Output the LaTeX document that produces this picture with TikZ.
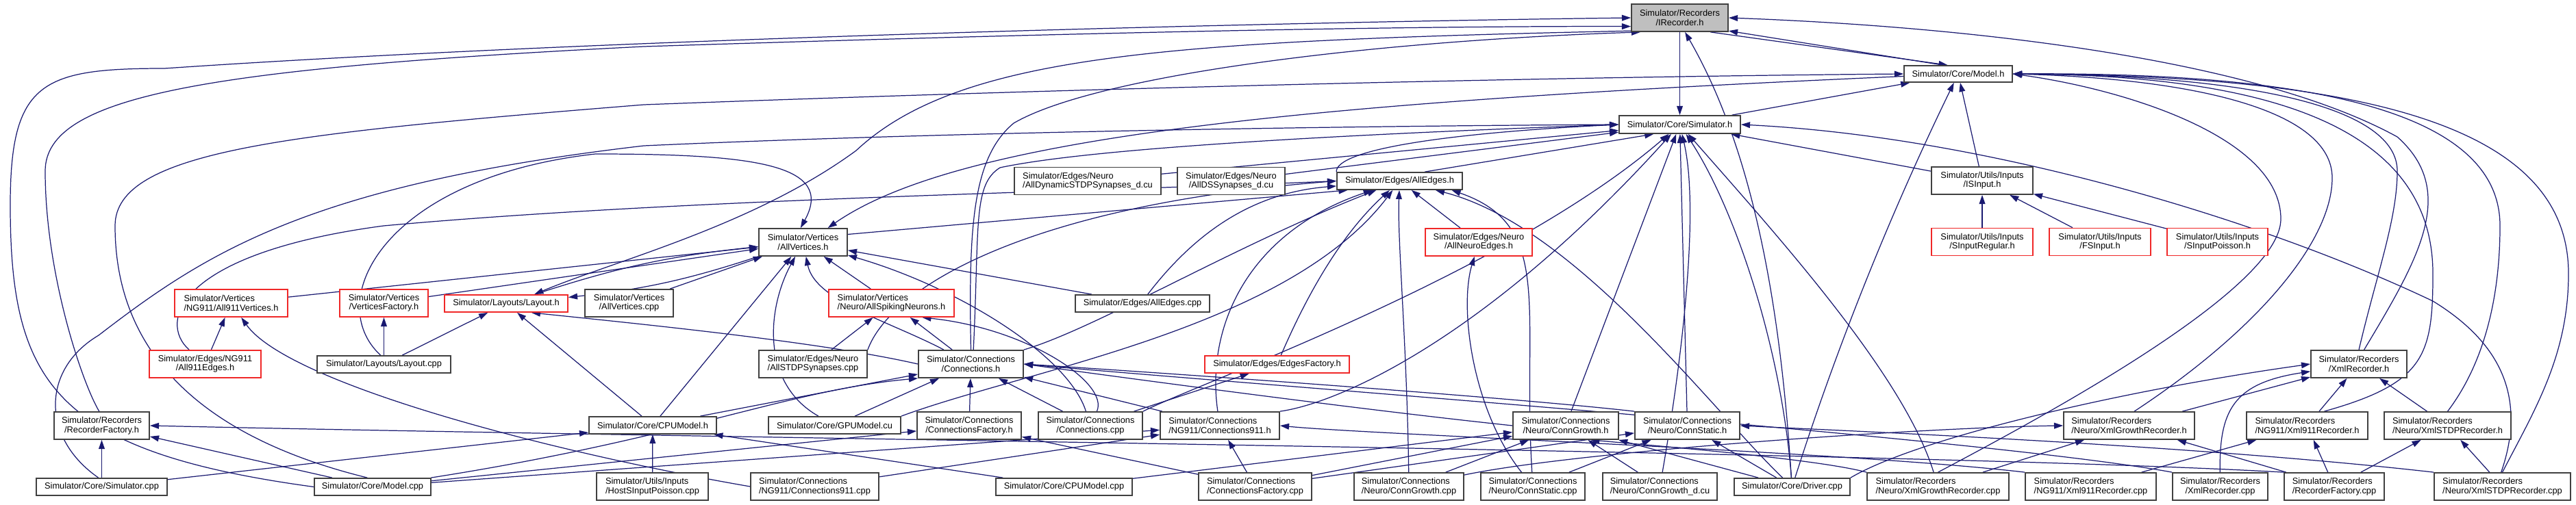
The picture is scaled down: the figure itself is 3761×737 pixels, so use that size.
\documentclass[tikz,border=0pt]{standalone}
\usepackage{fontspec}
\setmainfont{Liberation Sans}
\usetikzlibrary{arrows.meta,backgrounds}

\definecolor{edgeblue}{RGB}{25,25,112}
\definecolor{rootgray}{RGB}{191,191,191}
\definecolor{truncred}{RGB}{240,40,40}

\begin{document}
\begin{tikzpicture}[x=0.02cm, y=-0.02cm, font=\fontsize{7.3}{7.6}\selectfont,
  box/.style={draw=black!75, line width=1pt, fill=white, inner sep=0pt, align=center},
  rootbox/.style={box, fill=rootgray},
  redbox/.style={box, draw=truncred},
  wh/.style 2 args={minimum width=#1*0.02cm, minimum height=#2*0.02cm},
  edge/.style={draw=edgeblue, line width=0.7pt, -{Triangle[length=7.5pt,width=5pt]}}]
  \useasboundingbox (0,0) rectangle (3761,737);

  \node[rootbox, wh={141}{40}] (ir) at (2452.5,26) {Simulator/Recorders\\/IRecorder.h};
  \node[box, wh={158}{24}] (mh) at (2859,108) {Simulator/Core/Model.h};
  \node[box, wh={177}{26}] (sh) at (2452.5,182) {Simulator/Core/Simulator.h};

  \node[box, wh={214}{40}, align=left] (ads) at (1588,264.5) {Simulator/Edges/Neuro\\/AllDynamicSTDPSynapses\_d.cu};
  \node[box, wh={157}{40}] (adss) at (1797.5,264.5) {Simulator/Edges/Neuro\\/AllDSSynapses\_d.cu};
  \node[box, wh={183}{25}] (aeh) at (2043.5,264.5) {Simulator/Edges/AllEdges.h};
  \node[box, wh={148}{40}] (isi) at (2894,264) {Simulator/Utils/Inputs\\/ISInput.h};

  \node[box, wh={129}{40}] (avh) at (1172.5,354) {Simulator/Vertices\\/AllVertices.h};
  \node[redbox, wh={156}{40}] (ane) at (2159,354) {Simulator/Edges/Neuro\\/AllNeuroEdges.h};
  \node[redbox, wh={148}{40}] (sir) at (2894,353.5) {Simulator/Utils/Inputs\\/SInputRegular.h};
  \node[redbox, wh={148}{40}] (fsi) at (3066,353.5) {Simulator/Utils/Inputs\\/FSInput.h};
  \node[redbox, wh={147}{40}] (sip) at (3237.5,353.5) {Simulator/Utils/Inputs\\/SInputPoisson.h};

  \node[redbox, wh={165}{40}, align=left] (a9v) at (337.5,443) {Simulator/Vertices\\/NG911/All911Vertices.h};
  \node[redbox, wh={129}{40}] (vf) at (560.5,443) {Simulator/Vertices\\/VerticesFactory.h};
  \node[redbox, wh={180}{25}] (lh) at (739,443.5) {Simulator/Layouts/Layout.h};
  \node[box, wh={129}{40}] (avc) at (918.5,443) {Simulator/Vertices\\/AllVertices.cpp};
  \node[redbox, wh={183}{40}, align=left] (asn) at (1301.5,443) {Simulator/Vertices\\/Neuro/AllSpikingNeurons.h};
  \node[box, wh={196}{25}] (aec) at (1668,443.5) {Simulator/Edges/AllEdges.cpp};

  \node[redbox, wh={163}{40}] (a9e) at (299.5,532) {Simulator/Edges/NG911\\/All911Edges.h};
  \node[box, wh={195}{25}] (lc) at (560.5,532.5) {Simulator/Layouts/Layout.cpp};
  \node[box, wh={158}{40}, align=left] (asc) at (1187,532) {Simulator/Edges/Neuro\\/AllSTDPSynapses.cpp};
  \node[box, wh={153}{40}] (ch) at (1417.5,532) {Simulator/Connections\\/Connections.h};
  \node[redbox, wh={211}{25}] (ef) at (1864.5,532.5) {Simulator/Edges/EdgesFactory.h};
  \node[box, wh={140}{40}] (xrh) at (3444,532) {Simulator/Recorders\\/XmlRecorder.h};

  \node[box, wh={139}{40}] (rfh) at (148.5,622) {Simulator/Recorders\\/RecorderFactory.h};
  \node[box, wh={186}{25}] (cpuh) at (953,621.5) {Simulator/Core/CPUModel.h};
  \node[box, wh={193}{25}] (gpu) at (1218.5,621.5) {Simulator/Core/GPUModel.cu};
  \node[box, wh={152}{40}] (cfh) at (1415,622) {Simulator/Connections\\/ConnectionsFactory.h};
  \node[box, wh={152}{40}] (cc) at (1592,622) {Simulator/Connections\\/Connections.cpp};
  \node[box, wh={174}{40}, align=left] (c9h) at (1781,622) {Simulator/Connections\\/NG911/Connections911.h};
  \node[box, wh={154}{40}] (cgh) at (2286,622) {Simulator/Connections\\/Neuro/ConnGrowth.h};
  \node[box, wh={153}{40}] (csh) at (2463.5,622) {Simulator/Connections\\/Neuro/ConnStatic.h};
  \node[box, wh={191}{40}, align=left] (xgh) at (3108.5,622) {Simulator/Recorders\\/Neuro/XmlGrowthRecorder.h};
  \node[box, wh={177}{40}, align=left] (x9h) at (3368.5,622) {Simulator/Recorders\\/NG911/Xml911Recorder.h};
  \node[box, wh={185}{40}, align=left] (xsh) at (3573.5,622) {Simulator/Recorders\\/Neuro/XmlSTDPRecorder.h};

  \node[box, wh={191}{25}] (sc) at (148.5,711.5) {Simulator/Core/Simulator.cpp};
  \node[box, wh={170}{25}] (mc) at (544,711.5) {Simulator/Core/Model.cpp};
  \node[box, wh={163}{40}, align=left] (hsp) at (952.5,711) {Simulator/Utils/Inputs\\/HostSInputPoisson.cpp};
  \node[box, wh={187}{40}, align=left] (c9c) at (1189.5,711) {Simulator/Connections\\/NG911/Connections911.cpp};
  \node[box, wh={199}{25}] (cpuc) at (1553.5,711.5) {Simulator/Core/CPUModel.cpp};
  \node[box, wh={165}{40}, align=left] (cfc) at (1832.5,711) {Simulator/Connections\\/ConnectionsFactory.cpp};
  \node[box, wh={160}{40}, align=left] (cgc) at (2057,711) {Simulator/Connections\\/Neuro/ConnGrowth.cpp};
  \node[box, wh={152}{40}, align=left] (csc) at (2238,711) {Simulator/Connections\\/Neuro/ConnStatic.cpp};
  \node[box, wh={167}{40}, align=left] (cgd) at (2423.5,711) {Simulator/Connections\\/Neuro/ConnGrowth\_d.cu};
  \node[box, wh={169}{25}] (dc) at (2616.5,711.5) {Simulator/Core/Driver.cpp};
  \node[box, wh={207}{40}, align=left] (xgc) at (2829.5,711) {Simulator/Recorders\\/Neuro/XmlGrowthRecorder.cpp};
  \node[box, wh={191}{40}, align=left] (x9c) at (3052.5,711) {Simulator/Recorders\\/NG911/Xml911Recorder.cpp};
  \node[box, wh={139}{40}] (xrc) at (3241.5,711) {Simulator/Recorders\\/XmlRecorder.cpp};
  \node[box, wh={146}{40}, align=left] (rfc) at (3408,711) {Simulator/Recorders\\/RecorderFactory.cpp};
  \node[box, wh={199}{40}, align=left] (xsc) at (3653.5,711) {Simulator/Recorders\\/Neuro/XmlSTDPRecorder.cpp};

  \begin{pgfonlayer}{background}
  \draw[edge] (mh.150) -- (ir.-15);
  \draw[edge] (ir.-25) -- (mh.140);
  \draw[edge] (ir) -- (sh);
  \draw[edge] (mc.west) .. controls (80,660) and (15,560) .. (15,300) .. controls (15,120) and (60,100) .. (240,100) .. controls (900,55) and (1900,32) .. (ir.west);
  \draw[edge] (rfh.100) .. controls (120,560) and (66,400) .. (66,250) .. controls (66,140) and (300,100) .. (940,68) .. controls (1500,50) and (2000,38) .. (ir.190);
  \draw[edge] (mc.120) .. controls (300,640) and (168,520) .. (168,330) .. controls (168,220) and (420,195) .. (940,153) .. controls (1600,128) and (2300,112) .. (mh.west);
  \draw[edge] (sc.110) .. controls (60,640) and (60,540) .. (144,490) .. controls (300,370) and (450,270) .. (940,213) .. controls (1400,192) and (2000,184) .. (sh.west);
  \draw[edge] (lc.110) .. controls (470,440) and (560,260) .. (869,225) .. controls (1100,225) and (1220,240) .. (avh.100);
  \draw[edge] (ir.195) .. controls (1700,60) and (1400,80) .. (1250,220) .. controls (1100,330) and (900,380) .. (lh.18);
  \draw[edge] (mh) .. controls (1900,150) and (1400,200) .. (avh.30);
  \draw[edge] (ch.north) .. controls (1414,330) and (1420,230) .. (1480,180) .. controls (1600,110) and (2000,60) .. (ir.200);
  \draw[edge] (ch.80) .. controls (1430,330) and (1420,270) .. (1460,245) .. controls (1600,215) and (2000,195) .. (sh.west);
  \draw[edge] (dc.95) .. controls (2600,450) and (2560,220) .. (ir.-70);
  \draw[edge] (xrh.70) .. controls (3530,380) and (3590,280) .. (3500,200) .. controls (3300,90) and (2900,40) .. (ir.east);
  \draw[edge] (sh) -- (mh);
  \draw[edge] (isi) -- (mh);
  \draw[edge] (isi) -- (sh);
  \draw[edge] (dc) .. controls (2700,450) and (2790,250) .. (mh);
  \draw[edge] (xgc.north) .. controls (3000,600) and (3330,420) .. (3330,320) .. controls (3330,200) and (3100,130) .. (mh.east);
  \draw[edge] (xgh.70) .. controls (3300,480) and (3405,350) .. (3405,260) .. controls (3405,160) and (3200,115) .. (mh.east);
  \draw[edge] (xrh.north) .. controls (3470,400) and (3500,320) .. (3500,250) .. controls (3500,160) and (3300,110) .. (mh.east);
  \draw[edge] (x9h.40) .. controls (3540,560) and (3552,520) .. (3552,400) .. controls (3552,180) and (3300,110) .. (mh.east);
  \draw[edge] (xsh.north) .. controls (3620,540) and (3650,450) .. (3650,330) .. controls (3650,170) and (3400,105) .. (mh.east);
  \draw[edge] (xsc.north) .. controls (3700,600) and (3750,520) .. (3750,400) .. controls (3750,200) and (3500,110) .. (mh.east);
  \draw[edge] (xsc.95) .. controls (3690,580) and (3650,500) .. (3552,440) .. controls (3300,320) and (2900,200) .. (sh.east);

  \draw[edge] (ads) -- (sh);
  \draw[edge] (adss) -- (sh);
  \draw[edge] (aeh.north west) .. controls (1950,220) and (2100,195) .. (sh.west);
  \draw[edge] (aeh.20) -- (sh.200);
  \draw[edge] (cgh) -- (sh);
  \draw[edge] (csh) -- (sh);
  \draw[edge] (cc.north east) .. controls (1750,560) and (2200,400) .. (sh);
  \draw[edge] (c9h.north east) .. controls (1950,590) and (2165,500) .. (sh);
  \draw[edge] (dc) .. controls (2600,500) and (2530,300) .. (sh);
  \draw[edge] (cgd) .. controls (2460,500) and (2480,300) .. (sh);
  \draw[edge] (xgc) .. controls (2780,550) and (2600,350) .. (sh);

  \draw[edge] (a9v) -- (avh);
  \draw[edge] (vf) -- (avh);
  \draw[edge] (lh) to[bend left=6] (avh);
  \draw[edge] (avh) to[bend left=6] (lh);
  \draw[edge] (avc) -- (avh);
  \draw[edge] (asn) -- (avh);
  \draw[edge] (aec) -- (avh);
  \draw[edge] (cpuh) -- (avh);
  \draw[edge] (gpu) .. controls (1110,560) and (1120,450) .. (avh);
  \draw[edge] (ch) .. controls (1300,470) and (1190,440) .. (avh);
  \draw[edge] (cc) .. controls (1560,520) and (1400,420) .. (avh);
  \draw[edge] (avh.10) -- (aeh.190);
  \draw[edge] (asc.north east) .. controls (1300,420) and (1500,300) .. (aeh.west);

  \draw[edge] (a9e) -- (a9v);
  \draw[edge] (a9e) .. controls (230,470) and (260,370) .. (560,330) .. controls (1000,290) and (1600,280) .. (aeh.west);
  \draw[edge] (c9c.west) .. controls (800,660) and (420,560) .. (a9v);
  \draw[edge] (lc) -- (vf);
  \draw[edge] (lc) -- (lh);
  \draw[edge] (cpuh) -- (lh);
  \draw[edge] (ch.west) .. controls (1200,500) and (950,475) .. (lh.-20);
  \draw[edge] (asc) -- (asn);
  \draw[edge] (ch) -- (asn);
  \draw[edge] (cc) .. controls (1620,560) and (1500,480) .. (asn.-25);
  \draw[edge] (aec.60) .. controls (1760,320) and (1850,280) .. (aeh);

  \draw[edge] (ef) .. controls (1900,450) and (1950,350) .. (aeh);
  \draw[edge] (gpu.north east) .. controls (1500,540) and (1880,480) .. (aeh);
  \draw[edge] (cgc) .. controls (2054,500) and (2040,350) .. (aeh);
  \draw[edge] (ane) -- (aeh);
  \draw[edge] (csc) .. controls (2222,450) and (2270,330) .. (aeh.-10);
  \draw[edge] (csc) .. controls (2150,600) and (2130,450) .. (ane);
  \draw[edge] (dc) .. controls (2500,600) and (2300,330) .. (aeh);
  \draw[edge] (c9h) .. controls (1760,480) and (1820,340) .. (aeh);
  \draw[edge] (ch.north east) .. controls (1600,480) and (1800,360) .. (aeh);

  \draw[edge] (cpuh) -- (ch);
  \draw[edge] (mc) .. controls (1000,640) and (1150,570) .. (ch.south west);
  \draw[edge] (gpu) -- (ch);
  \draw[edge] (cfh) -- (ch);
  \draw[edge] (cc) -- (ch);
  \draw[edge] (c9h) -- (ch);
  \draw[edge] (cgh.west) .. controls (2000,600) and (1700,560) .. (ch.east);
  \draw[edge] (csh.north west) .. controls (2200,580) and (1700,545) .. (ch.east);
  \draw[edge] (xrc.north west) .. controls (2900,640) and (1800,560) .. (ch.east);
  \draw[edge] (hsp) -- (cpuh);
  \draw[edge] (cpuc) -- (cpuh);
  \draw[edge] (sc) -- (cpuh);
  \draw[edge] (cc) -- (ef);
  \draw[edge] (c9c) -- (c9h);
  \draw[edge] (cfc) -- (c9h);
  \draw[edge] (cfc) -- (cfh);
  \draw[edge] (mc) -- (cfh);
  \draw[edge] (mc) -- (c9h);
  \draw[edge] (mc) -- (rfh);
  \draw[edge] (sc) -- (rfh);
  \draw[edge] (rfc.north west) .. controls (2800,660) and (1000,640) .. (rfh.east);
  \draw[edge] (x9c.north west) .. controls (2700,660) and (2000,635) .. (c9h.east);

  \draw[edge] (cgc) -- (cgh);
  \draw[edge] (cgd) -- (cgh);
  \draw[edge] (csc) -- (csh);
  \draw[edge] (dc) -- (csh);
  \draw[edge] (dc) -- (cgh);
  \draw[edge] (cfc) -- (cgh);
  \draw[edge] (cfc) -- (csh);
  \draw[edge] (cpuc) -- (cgh);
  \draw[edge] (xgc.north west) .. controls (2650,670) and (2400,650) .. (cgh.-30);
  \draw[edge] (xsc.north west) .. controls (3200,650) and (2700,630) .. (csh.east);
  \draw[edge] (cgc) .. controls (2300,660) and (2800,625) .. (xgh.west);
  \draw[edge] (dc.north east) .. controls (2800,640) and (3100,570) .. (xrh.west);

  \draw[edge] (xgc) -- (xgh);
  \draw[edge] (rfc) -- (xgh);
  \draw[edge] (xgh) -- (xrh);
  \draw[edge] (xrc) .. controls (3240,600) and (3260,560) .. (xrh);
  \draw[edge] (x9h) -- (xrh);
  \draw[edge] (xsh) -- (xrh);
  \draw[edge] (x9c) -- (x9h);
  \draw[edge] (rfc) -- (x9h);
  \draw[edge] (rfc) -- (xsh);
  \draw[edge] (xsc) -- (xsh);

  \draw[edge] (sir) -- (isi);
  \draw[edge] (fsi) -- (isi);
  \draw[edge] (sip) -- (isi);
  \end{pgfonlayer}
\end{tikzpicture}
\end{document}
